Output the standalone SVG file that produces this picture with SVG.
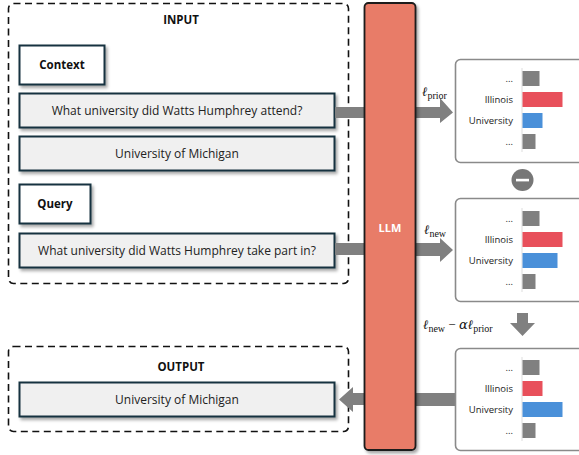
<svg xmlns="http://www.w3.org/2000/svg" width="579" height="455" viewBox="0 0 579 455">
<defs>
<filter id="sh" x="-10%" y="-20%" width="130%" height="150%">
<feDropShadow dx="2" dy="2.5" stdDeviation="1.5" flood-color="#000" flood-opacity="0.35"/>
</filter>
</defs>
<style>
.dash{fill:none;stroke:#111;stroke-width:1.6;stroke-dasharray:7 4.5}
.tb{fill:#f0f0f0;stroke:#17303f;stroke-width:2}
.lb{fill:#fff;stroke:#17303f;stroke-width:2}
.t{font-family:"Open Sans","Liberation Sans",sans-serif;font-size:12px;fill:#222;text-anchor:middle}
.h{font-family:"Open Sans","Liberation Sans",sans-serif;font-size:11.5px;font-weight:bold;fill:#111;text-anchor:middle}
.dist{fill:#fff;stroke:#8a8a8a;stroke-width:1.6}
.ax{stroke:#ddd;stroke-width:1}
.lab{font-family:"Open Sans","Liberation Sans",sans-serif;font-size:9.5px;fill:#222;text-anchor:end}
.g{fill:#808080}
.r{fill:#e8505b}
.b{fill:#4a90d9}
.m{font-family:"DejaVu Serif","Liberation Serif",serif;font-style:italic;font-size:13px;fill:#111}
.s{font-family:"Liberation Serif",serif;font-style:normal;font-size:10px;fill:#111}
.n{font-family:"Liberation Serif",serif;font-style:normal;font-size:13px}
</style>

<g id="input">
<rect class="dash" x="8.5" y="3.5" width="340" height="280" rx="5"/>
<text class="h" x="181" y="24">INPUT</text>
</g>
<g id="context">
<rect class="lb" x="19.5" y="45.5" width="85" height="39" filter="url(#sh)"/>
<text class="h" x="62" y="69" font-size="11">Context</text>
</g>
<g id="q1">
<rect class="tb" x="19.5" y="93.5" width="315" height="34" filter="url(#sh)"/>
<text class="t" x="177" y="115">What university did Watts Humphrey attend?</text>
</g>
<g id="ans1">
<rect class="tb" x="19.5" y="136.5" width="315" height="34" filter="url(#sh)"/>
<text class="t" x="177" y="158">University of Michigan</text>
</g>
<g id="query">
<rect class="lb" x="19.5" y="184.5" width="71" height="39" filter="url(#sh)"/>
<text class="h" x="55" y="208" font-size="11">Query</text>
</g>
<g id="q2">
<rect class="tb" x="19.5" y="233.5" width="315" height="34" filter="url(#sh)"/>
<text class="t" x="177" y="255">What university did Watts Humphrey take part in?</text>
</g>

<g id="output">
<rect class="dash" x="8.5" y="346.5" width="340" height="85" rx="5"/>
<text class="h" x="181" y="371">OUTPUT</text>
</g>
<g id="ans2">
<rect class="tb" x="19.5" y="382.5" width="315" height="34" filter="url(#sh)"/>
<text class="t" x="177" y="404">University of Michigan</text>
</g>

<g id="connectors">
<rect class="g" x="335" y="107" width="30" height="11"/>
<rect class="g" x="335" y="243" width="30" height="12"/>
<polygon class="g" points="415,107 440,107 440,98 453,112.5 440,123 440,118 415,118"/>
<polygon class="g" points="415,243 440,243 440,238 453,250 440,262 440,256 415,256"/>
<rect class="g" x="415" y="393" width="41" height="13"/>
<polygon class="g" points="365,393 353,393 353,387 339,399.5 353,412 353,405 365,405"/>
<polygon class="g" points="517,313 528,313 528,323 535,323 522.5,336 510,323 517,323"/>
<text class="m" x="422" y="96">ℓ<tspan class="s" dy="3">prior</tspan></text>
<text class="m" x="424" y="234">ℓ<tspan class="s" dy="3">new</tspan></text>
<text class="m" x="423" y="329">ℓ<tspan class="s" dy="3">new</tspan><tspan class="n" dy="-3"> − </tspan>α<tspan>ℓ</tspan><tspan class="s" dy="3">prior</tspan></text>
</g>

<g id="llm">
<rect x="364.5" y="3" width="51" height="447" rx="4" fill="#e87b67" stroke="#1a1a1a" stroke-width="1.8" filter="url(#sh)"/>
<text x="390" y="232" font-family="Open Sans,Liberation Sans,sans-serif" font-size="11" font-weight="bold" fill="#fff" text-anchor="middle">LLM</text>
</g>

<g id="dist-prior">
<rect class="dist" x="455.5" y="59.5" width="140" height="103" rx="5"/>
<line class="ax" x1="522" y1="68" x2="522" y2="152"/>
<rect class="g" x="522.5" y="71" width="17" height="15"/>
<rect class="r" x="522.5" y="92" width="40" height="15"/>
<rect class="b" x="522.5" y="113" width="20" height="15"/>
<rect class="g" x="522.5" y="134" width="13" height="15"/>
<text class="lab" x="513" y="82">...</text>
<text class="lab" x="513" y="103">Illinois</text>
<text class="lab" x="513" y="124">University</text>
<text class="lab" x="513" y="145">...</text>
</g>

<g id="minus">
<circle cx="522.5" cy="180" r="11" fill="#777"/>
<rect x="516" y="178.8" width="13" height="2.6" fill="#fff"/>
</g>

<g id="dist-new">
<rect class="dist" x="455.5" y="198.5" width="140" height="103" rx="5"/>
<line class="ax" x1="522" y1="208" x2="522" y2="292"/>
<rect class="g" x="522.5" y="211" width="17" height="15"/>
<rect class="r" x="522.5" y="232" width="40" height="15"/>
<rect class="b" x="522.5" y="253" width="35" height="15"/>
<rect class="g" x="522.5" y="274" width="13" height="15"/>
<text class="lab" x="513" y="222">...</text>
<text class="lab" x="513" y="243">Illinois</text>
<text class="lab" x="513" y="264">University</text>
<text class="lab" x="513" y="285">...</text>
</g>

<g id="dist-cd">
<rect class="dist" x="455.5" y="348.5" width="140" height="102" rx="5"/>
<line class="ax" x1="522" y1="357" x2="522" y2="441"/>
<rect class="g" x="522.5" y="360" width="17" height="15"/>
<rect class="r" x="522.5" y="381" width="20" height="15"/>
<rect class="b" x="522.5" y="402" width="40" height="15"/>
<rect class="g" x="522.5" y="423" width="13" height="15"/>
<text class="lab" x="513" y="371">...</text>
<text class="lab" x="513" y="392">Illinois</text>
<text class="lab" x="513" y="413">University</text>
<text class="lab" x="513" y="434">...</text>
</g>
</svg>
